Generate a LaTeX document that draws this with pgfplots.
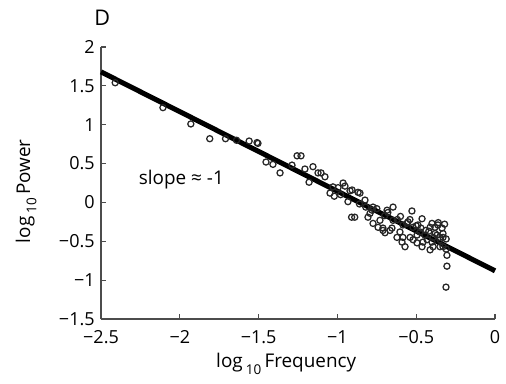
\documentclass[border=0pt]{standalone}
\usepackage{pgfplots}
\pgfplotsset{compat=1.18}
\usepackage{fontspec}
\setmainfont{Open Sans}
\newcommand{\px}{0.5556pt}
\pgfplotstableread{
x y
-2.41 1.54
-2.107 1.22
-1.93 1.01
-1.81 0.82
-1.71 0.82
-1.64 0.80
-1.56 0.79
-1.51 0.77
-1.504 0.76
-1.453 0.52
-1.409 0.49
-1.364 0.38
-1.256 0.60
-1.231 0.60
-1.288 0.48
-1.206 0.43
-1.155 0.46
-1.123 0.38
-1.104 0.38
-1.180 0.26
-1.079 0.33
-1.047 0.12
-1.028 0.20
-0.996 0.19
-0.964 0.25
-0.952 0.21
-0.920 0.15
-0.933 0.01
-0.890 -0.19
-0.910 -0.19
-0.869 0.13
-0.907 0.16
-0.857 0.12
-0.825 0.03
-0.806 -0.19
-0.774 -0.06
-0.730 -0.23
-0.685 -0.10
-0.647 -0.06
-0.711 -0.36
-0.698 -0.39
-0.654 -0.33
-0.622 -0.45
-0.590 -0.51
-0.571 -0.57
-0.647 -0.23
-0.584 -0.29
-0.527 -0.11
-0.552 -0.25
-0.520 -0.32
-0.489 -0.29
-0.463 -0.21
-0.476 -0.38
-0.444 -0.42
-0.412 -0.32
-0.381 -0.32
-0.362 -0.29
-0.393 -0.45
-0.349 -0.48
-0.330 -0.57
-0.305 -0.68
-0.305 -0.82
-0.311 -1.09
-0.412 -0.61
-0.393 -0.57
-0.495 -0.52
-0.457 -0.51
-0.539 -0.45
-0.520 -0.48
-0.711 -0.33
-0.666 -0.36
-0.774 -0.27
-0.742 -0.32
-0.793 -0.14
-0.603 -0.38
-0.431 -0.48
-0.349 -0.57
-0.336 -0.33
-0.584 -0.45
-0.495 -0.42
-0.368 -0.42
-0.330 -0.45
-0.463 -0.57
-0.400 -0.51
-0.86 -0.02
-0.82 -0.06
-0.78 -0.10
-0.75 -0.08
-0.70 -0.17
-0.68 -0.13
-0.62 -0.22
-0.60 -0.18
-0.56 -0.27
-0.54 -0.22
-0.50 -0.30
-0.47 -0.33
-0.44 -0.36
-0.42 -0.37
-0.38 -0.40
-0.35 -0.45
-0.33 -0.40
-0.31 -0.47
-0.31 -0.60
-0.32 -0.28
-0.36 -0.26
-0.40 -0.27
-1.02 0.08
-0.98 0.10
}\pts
\begin{document}
\begin{tikzpicture}
\path[use as bounding box] (-101*\px,-64*\px) rectangle (405*\px,319*\px);
\begin{axis}[
  scale only axis,
  width=394*\px, height=272*\px,
  xmin=-2.5, xmax=0, ymin=-1.5, ymax=2,
  axis x line=bottom, axis y line=left,
  axis line style={-, black!70, line width=0.8pt},
  tick align=inside,
  major tick length=3pt,
  tick style={black!70, line width=0.7pt},
  xtick={-2.5,-2,-1.5,-1,-0.5,0},
  xticklabels={−2.5,−2,−1.5,−1,−0.5,0},
  ytick={-1.5,-1,-0.5,0,0.5,1,1.5,2},
  yticklabels={−1.5,−1,−0.5,0,0.5,1,1.5,2},
  ticklabel style={font=\fontsize{10}{12}\selectfont},
  xticklabel style={yshift=-3pt},
  xlabel={log\,\raisebox{-0.6ex}{\fontsize{7.5}{9}\selectfont 10}\,Frequency},
  ylabel={log\,\raisebox{-0.6ex}{\fontsize{7.5}{9}\selectfont 10}\,Power},
  label style={font=\fontsize{10.5}{12}\selectfont},
  xlabel style={at={(axis description cs:0.47,-0.165)}, anchor=center},
  ylabel style={at={(axis description cs:-0.19,0.47)}, anchor=center, rotate=0},
  clip=false,
]
\addplot[only marks, mark=o, mark size=1.7pt, mark options={black!85, line width=0.7pt}] table[x=x,y=y] {\pts};
\addplot[black, line width=2.8pt] coordinates {(-2.5,1.68) (0,-0.88)};
\node[font=\fontsize{10.5}{12}\selectfont] at (axis cs:-1.99,0.29) {slope ≈ -1};
\node[font=\fontsize{12}{14}\selectfont] at (axis description cs:0.003,1.107) {D};
\end{axis}
\end{tikzpicture}
\end{document}
